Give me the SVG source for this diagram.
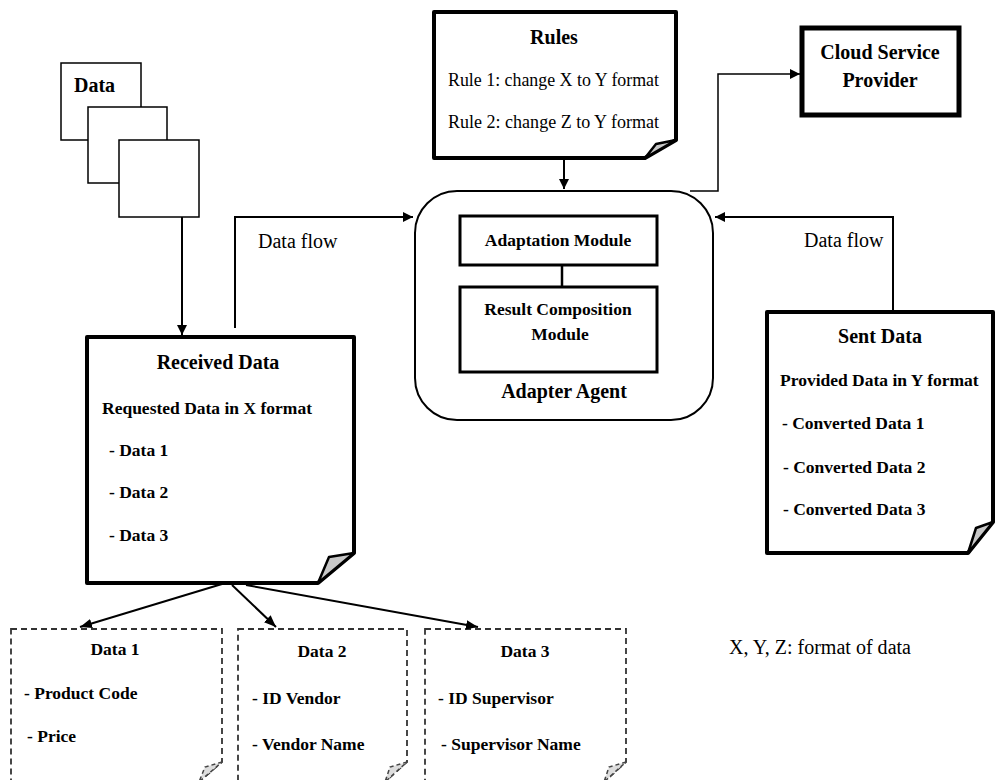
<svg xmlns="http://www.w3.org/2000/svg" width="995" height="780" viewBox="0 0 995 780">
<defs>
<marker id="ah" viewBox="0 0 10 10" refX="10" refY="5" markerWidth="10" markerHeight="10" markerUnits="userSpaceOnUse" orient="auto">
<path d="M0,0 L10,5 L0,10 z" fill="#000"/>
</marker>
<marker id="ahs" viewBox="0 0 10 10" refX="10" refY="5" markerWidth="12" markerHeight="12" markerUnits="userSpaceOnUse" orient="auto">
<path d="M0,1 L10,5 L0,9 z" fill="#000"/>
</marker>
</defs>
<style>
text{font-family:"Liberation Serif","Times New Roman",serif;fill:#000}
.h{font-size:20px;font-weight:bold}
.t{font-size:17.5px;font-weight:bold}
.r{font-size:20px}
.thick{fill:#fff;stroke:#000;stroke-width:4;stroke-linejoin:round}
.thin{fill:#fff;stroke:#000;stroke-width:1.5}
.dash{fill:#fff;stroke:#333;stroke-width:1.8;stroke-dasharray:6,4}
.fold{fill:#c8c8c8;stroke:#000;stroke-width:2.5;stroke-linejoin:round}
.foldd{fill:#ddd;stroke:#444;stroke-width:1.5;stroke-dasharray:4,3}
.con{fill:none;stroke:#000;stroke-width:2}
</style>

<g id="data-stack">
<rect class="thin" x="61" y="63" width="80" height="77"/>
<rect class="thin" x="88" y="107" width="79" height="76"/>
<rect class="thin" x="119" y="140" width="80" height="77"/>
<text class="h" x="74" y="92">Data</text>
</g>

<g id="rules">
<path class="thick" d="M434,12 H676 V140 L645,158 H434 Z"/>
<path class="fold" d="M676,140 L656,144 L645,158 Z"/>
<text class="h" x="554" y="44" text-anchor="middle">Rules</text>
<text x="448" y="86" font-size="18.5" textLength="211" lengthAdjust="spacingAndGlyphs">Rule 1: change X to Y format</text>
<text x="448" y="128" font-size="18.5" textLength="211" lengthAdjust="spacingAndGlyphs">Rule 2:  change Z to Y format</text>
</g>

<g id="cloud">
<rect x="802" y="28" width="157" height="87" fill="#fff" stroke="#000" stroke-width="5"/>
<text class="h" x="880" y="59" text-anchor="middle">Cloud Service</text>
<text class="h" x="880" y="87" text-anchor="middle">Provider</text>
</g>

<g id="adapter-agent">
<rect x="415" y="191" width="298" height="229" rx="42" ry="42" fill="#fff" stroke="#000" stroke-width="2"/>
<rect x="460" y="216" width="197" height="49" fill="#fff" stroke="#000" stroke-width="3"/>
<text class="t" x="558" y="246" text-anchor="middle">Adaptation Module</text>
<line x1="562" y1="265" x2="562" y2="287" stroke="#000" stroke-width="2.5"/>
<rect x="460" y="287" width="197" height="85" fill="#fff" stroke="#000" stroke-width="3"/>
<text class="t" x="558" y="315" text-anchor="middle">Result  Composition</text>
<text class="t" x="560" y="340" text-anchor="middle">Module</text>
<text class="h" x="564" y="398" text-anchor="middle">Adapter Agent</text>
</g>

<g id="received-data">
<path class="thick" d="M87,337 H354 V553 L318,583 H87 Z"/>
<path class="fold" d="M354,553 L329,557 L318,583 Z"/>
<text class="h" x="218" y="369" text-anchor="middle">Received Data</text>
<text class="t" x="102" y="414">Requested  Data in X format</text>
<text class="t" x="109" y="456">-  Data 1</text>
<text class="t" x="109" y="498">-  Data 2</text>
<text class="t" x="109" y="541">-  Data 3</text>
</g>

<g id="sent-data">
<path class="thick" d="M767,312 H993 V522 L968,553 H767 Z"/>
<path class="fold" d="M993,522 L976,528 L968,553 Z"/>
<text class="h" x="880" y="343" text-anchor="middle">Sent Data</text>
<text class="t" x="780" y="386">Provided Data  in Y format</text>
<text class="t" x="782" y="429">-  Converted Data 1</text>
<text class="t" x="783" y="473">- Converted Data 2</text>
<text class="t" x="783" y="515">- Converted Data 3</text>
</g>

<g id="data1">
<path class="dash" d="M11,629 H222 V762 L199,782 H11 Z"/>
<path class="foldd" d="M222,762 L205,767 L199,782 Z"/>
<text class="t" x="115" y="655" text-anchor="middle">Data 1</text>
<text class="t" x="24" y="699">- Product Code</text>
<text class="t" x="27" y="742">- Price</text>
</g>

<g id="data2">
<path class="dash" d="M238,629 H407 V762 L385,782 H238 Z"/>
<path class="foldd" d="M407,762 L390,767 L385,782 Z"/>
<text class="t" x="322" y="657" text-anchor="middle">Data 2</text>
<text class="t" x="252" y="704">- ID Vendor</text>
<text class="t" x="252" y="750">- Vendor Name</text>
</g>

<g id="data3">
<path class="dash" d="M425,629 H626 V762 L604,782 H425 Z"/>
<path class="foldd" d="M626,762 L609,767 L604,782 Z"/>
<text class="t" x="525" y="657" text-anchor="middle">Data 3</text>
<text class="t" x="438" y="704">-  ID Supervisor</text>
<text class="t" x="441" y="750">- Supervisor Name</text>
</g>

<g id="legend">
<text x="729" y="654" font-size="20" textLength="182" lengthAdjust="spacingAndGlyphs">X, Y, Z: format of data</text>
</g>

<g id="connectors">
<line class="con" x1="182" y1="217" x2="182" y2="335" marker-end="url(#ah)"/>
<line class="con" x1="564" y1="158" x2="564" y2="189" marker-end="url(#ah)"/>
<polyline fill="none" stroke="#000" stroke-width="1.5" points="690,191 718,191 718,74 800,74" marker-end="url(#ah)"/>
<polyline class="con" points="235,328 235,217 413,217" marker-end="url(#ah)"/>
<text class="r" x="258" y="248">Data flow</text>
<polyline class="con" points="893,312 893,217 715,217" marker-end="url(#ah)"/>
<text class="r" x="804" y="247">Data flow</text>
<line class="con" x1="222" y1="584" x2="80" y2="627" marker-end="url(#ahs)"/>
<line class="con" x1="232" y1="585" x2="276" y2="627" marker-end="url(#ahs)"/>
<line class="con" x1="246" y1="585" x2="478" y2="627" marker-end="url(#ahs)"/>
</g>
</svg>
